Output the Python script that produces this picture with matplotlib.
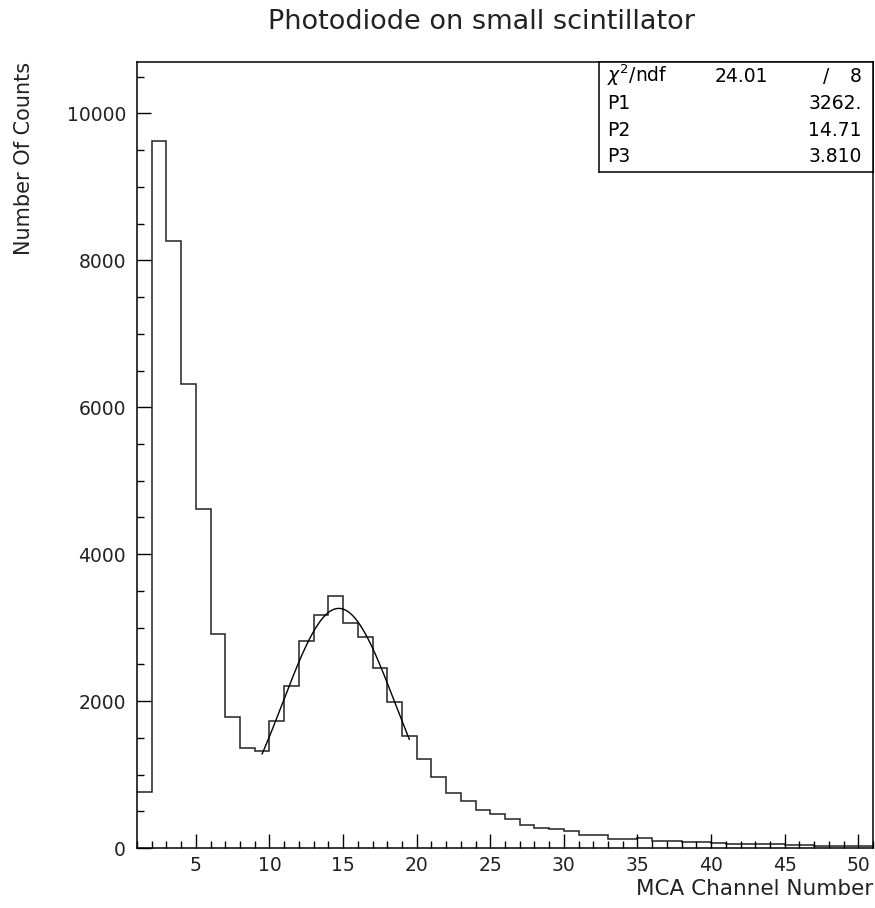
import numpy as np
import matplotlib
matplotlib.use("Agg")
import matplotlib.pyplot as plt
from matplotlib.ticker import MultipleLocator

# ---- data ----
bin_edges_start = 1
bin_edges_stop = 51
counts = [760, 9630, 8260, 6320, 4620, 2920, 1780, 1365, 1320, 1728,
          2200, 2820, 3170, 3428, 3065, 2875, 2453, 1986, 1520, 1211,
          970, 744, 644, 517, 458, 390, 313, 276, 258, 231,
          177, 177, 127, 127, 140, 100, 95, 86, 77, 63,
          59, 54, 54, 50, 36, 36, 32, 23, 32, 32]
fit_params = {"P1": 3262.0, "P2": 14.71, "P3": 3.810}
fit_labels = ["3262.", "14.71", "3.810"]
fit_range = (9.5, 19.5)
chi2 = "24.01"
ndf = "8"
title = "Photodiode on small scintillator"
xlabel = "MCA Channel Number"
ylabel = "Number Of Counts"
x_ticks = [5, 10, 15, 20, 25, 30, 35, 40, 45, 50]
y_ticks = [0, 2000, 4000, 6000, 8000, 10000]

plt.rcParams['font.family'] = ['DejaVu Sans']

W, H = 875, 908
fig = plt.figure(figsize=(W / 100, H / 100), dpi=100)
L, R, T, B = 137, 873, 62, 848
ax = fig.add_axes([L / W, 1 - B / H, (R - L) / W, (B - T) / H])

edges = np.arange(bin_edges_start, bin_edges_stop + 1)
ax.stairs(counts, edges, color='#222222', linewidth=1.1, baseline=None)

xf = np.linspace(fit_range[0], fit_range[1], 300)
yf = fit_params["P1"] * np.exp(-0.5 * ((xf - fit_params["P2"]) / fit_params["P3"]) ** 2)
ax.plot(xf, yf, color='black', linewidth=1.0)

ax.set_xlim(1, 51)
ax.set_ylim(0, 10700)

for s in ax.spines.values():
    s.set_linewidth(1.1)
    s.set_color('black')

ax.set_xticks(x_ticks)
ax.set_yticks(y_ticks)
ax.xaxis.set_minor_locator(MultipleLocator(1))
ax.yaxis.set_minor_locator(MultipleLocator(500))
ax.tick_params(which='both', direction='in', top=False, right=False, width=1.0)
ax.tick_params(which='major', length=10, labelsize=13.5, labelcolor='#222222')
ax.tick_params(which='minor', length=5)
ax.tick_params(axis='x', pad=6)
ax.tick_params(axis='y', pad=8)

fig.text(481 / W, 1 - 22 / H, title, ha='center', va='center', fontsize=19.5,
         color='#222222')
fig.text(R / W, 1 - 889 / H, xlabel, ha='right', va='center', fontsize=15.5,
         color='#222222')
fig.text(24 / W, 1 - T / H, ylabel, ha='center', va='top', rotation=90, fontsize=15,
         color='#222222')

# stats box
bx0, by0, bx1, by1 = 599, 62, 873, 172
ax_box = fig.add_axes([bx0 / W, 1 - by1 / H, (bx1 - bx0) / W, (by1 - by0) / H])
ax_box.set_xlim(bx0, bx1)
ax_box.set_ylim(by1, by0)
ax_box.set_xticks([])
ax_box.set_yticks([])
for s in ax_box.spines.values():
    s.set_linewidth(1.1)
ax_box.patch.set_facecolor('white')
fs = 13.5
ax_box.text(607, 82, r"$\chi^{2}$/ndf", ha='left', va='baseline', fontsize=fs)
ax_box.text(768, 82, chi2, ha='right', va='baseline', fontsize=fs)
ax_box.text(826, 82, "/", ha='center', va='baseline', fontsize=fs)
ax_box.text(862, 82, ndf, ha='right', va='baseline', fontsize=fs)
rows_y = [109, 136, 162]
for k, txt, yy in zip(fit_params.keys(), fit_labels, rows_y):
    ax_box.text(607, yy, k, ha='left', va='baseline', fontsize=fs)
    ax_box.text(862, yy, txt, ha='right', va='baseline', fontsize=fs)

fig.savefig("out.png", dpi=100)
